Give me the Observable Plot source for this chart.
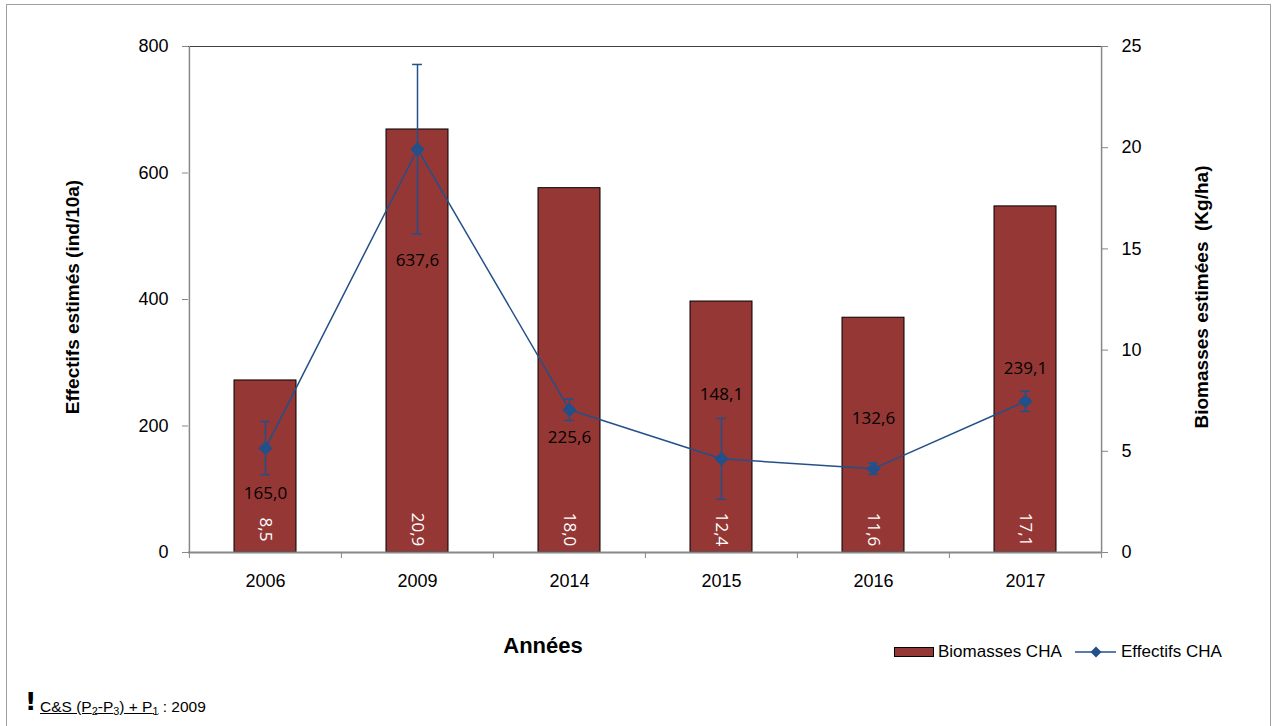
<!DOCTYPE html>
<html>
<head>
<meta charset="utf-8">
<script src="https://cdn.jsdelivr.net/npm/d3@7"></script>
<script src="https://cdn.jsdelivr.net/npm/@observablehq/plot@0.6"></script>
<style>
  body { margin: 0; background: #fff; }
  #wrap { position: relative; width: 1273px; height: 726px; overflow: hidden; font-family: "Liberation Sans", Arial, sans-serif; color: #000; }
  #frame { position: absolute; left: 6px; top: 4px; width: 1265px; height: 740px; border: 1px solid #a0a0a0; box-sizing: border-box; }
  #chart { position: absolute; left: 0; top: 0; }
  .abs { position: absolute; white-space: nowrap; }
  .ytitle { font-weight: bold; font-size: 19px; line-height: 22px; text-align: center; width: 400px; transform: rotate(-90deg); transform-origin: 50% 50%; }
  .legtext { font-size: 17px; line-height: 20px; }
  #foot { font-size: 15.5px; line-height: 18px; }
  #foot sub { font-size: 70%; vertical-align: -3px; line-height: 0; }
</style>
</head>
<body>
<div id="wrap">
  <div id="frame"></div>
  <div id="chart"></div>
  <div class="abs ytitle" style="left:-127px; top:286px;">Effectifs estimés (ind/10a)</div>
  <div class="abs ytitle" style="left:1002px; top:286px;">Biomasses estimées &nbsp;(Kg/ha)</div>
  <div class="abs" style="left:443px; width:200px; text-align:center; top:633px; font-weight:bold; font-size:22px; line-height:26px;">Années</div>
  <div class="abs" style="left:894px; top:647px; width:40px; height:10px; background:#953735; border:1px solid #000; box-sizing:border-box;"></div>
  <div class="abs legtext" style="left:938px; top:642px;">Biomasses CHA</div>
  <svg class="abs" style="left:1075px; top:646px;" width="42" height="12">
    <line x1="0" y1="6" x2="41" y2="6" stroke="#24508A" stroke-width="1.5"></line>
    <path d="M21,0.5 L26.5,6 L21,11.5 L15.5,6 Z" fill="#24508A"></path>
  </svg>
  <div class="abs legtext" style="left:1121px; top:642px;">Effectifs CHA</div>
  <div class="abs" style="left:25px; top:688px; font-weight:bold; font-size:25px; line-height:28px; font-family:'DejaVu Sans', sans-serif;">!</div>
  <div id="foot" class="abs" style="left:40px; top:698px;"><span style="text-decoration:underline;">C&amp;S (P<sub>2</sub>-P<sub>3</sub>) + P<sub>1</sub></span> : 2009</div>
</div>
<script>
// ---- data ----
const years = ["2006", "2009", "2014", "2015", "2016", "2017"];
const biomasses = [8.5, 20.9, 18.0, 12.4, 11.6, 17.1];          // Kg/ha (right axis)
const effectifs = [165.0, 637.6, 225.6, 148.1, 132.6, 239.1];   // ind/10a (left axis)
const effectifsErr = [42, 134, 17, 64, 9, 16];                  // error bar half-length
const leftTicks = [0, 200, 400, 600, 800];
const rightTicks = [0, 5, 10, 15, 20, 25];

// ---- layout / style ----
const W = 1273, H = 620, ML = 188, MR = 172, MT = 46, MB = 68;
const K = 800 / 25; // right axis -> left axis units
const bw = (W - ML - MR) / years.length;
const BAR = "#953735", LINE = "#24508A", AXIS = "#888888";
const fmt = v => v.toFixed(1).replace(".", ",");
const labelFont = '"Open Sans", "Noto Sans", sans-serif';
const labelDy = [45, 111, 28, -64, -50, -33];

const data = years.map((year, i) => ({
  year, bio: biomasses[i], eff: effectifs[i], err: effectifsErr[i]
}));

const pointLabels = data.map((d, i) =>
  Plot.text([d], {x: "year", y: "eff", text: d => fmt(d.eff), dy: labelDy[i],
    fontSize: 17, fontFamily: labelFont, fill: "#000", lineAnchor: "middle"}));

const plot = Plot.plot({
  width: W, height: H,
  marginLeft: ML, marginRight: MR, marginTop: MT, marginBottom: MB,
  style: {fontFamily: '"Liberation Sans", Arial, sans-serif', background: "transparent", overflow: "visible", color: "#000"},
  x: {type: "band", domain: years, padding: 0, axis: null},
  y: {domain: [0, 800], axis: null},
  marks: [
    Plot.barY(data, {x: "year", y: d => d.bio * K, fill: BAR, stroke: "#000", strokeWidth: 1,
      insetLeft: 45, insetRight: 45}),
    Plot.ruleY([800], {stroke: "#404040", strokeWidth: 1}),
    Plot.ruleX([years[0]], {dx: -bw / 2, stroke: AXIS, strokeWidth: 1.5}),
    Plot.ruleX([years[years.length - 1]], {dx: bw / 2, stroke: AXIS, strokeWidth: 1.5}),
    Plot.ruleY([0], {stroke: AXIS, strokeWidth: 2}),
    Plot.ruleX(years, {x: d => d, y1: 0, y2: -9.5, dx: -bw / 2, stroke: AXIS, strokeWidth: 1}),
    Plot.ruleX([years[years.length - 1]], {y1: 0, y2: -9.5, dx: bw / 2, stroke: AXIS, strokeWidth: 1}),
    Plot.axisY({anchor: "left", ticks: leftTicks, tickSize: 6, tickPadding: 14, fontSize: 18,
      label: null, stroke: AXIS}),
    Plot.axisY(rightTicks.map(v => v * K), {anchor: "right", tickSize: 6, tickPadding: 14, fontSize: 18,
      label: null, stroke: AXIS, tickFormat: v => String(v / K)}),
    Plot.axisX({ticks: years, tickSize: 0, tickPadding: 22, fontSize: 18, label: null}),
    Plot.text(data, {x: "year", y: 0, text: d => fmt(d.bio), rotate: 90, dy: -23,
      fill: "#fff", fontSize: 17, fontFamily: labelFont, lineAnchor: "middle"}),
    Plot.line(data, {x: "year", y: "eff", stroke: LINE, strokeWidth: 1.5}),
    Plot.ruleX(data, {x: "year", y1: d => d.eff - d.err, y2: d => d.eff + d.err, stroke: LINE, strokeWidth: 1.5}),
    Plot.tickY(data, {x: "year", y: d => d.eff - d.err, stroke: LINE, strokeWidth: 1.5,
      insetLeft: (bw - 10) / 2, insetRight: (bw - 10) / 2}),
    Plot.tickY(data, {x: "year", y: d => d.eff + d.err, stroke: LINE, strokeWidth: 1.5,
      insetLeft: (bw - 10) / 2, insetRight: (bw - 10) / 2}),
    Plot.dot(data, {x: "year", y: "eff", symbol: "diamond2", r: 5.5, fill: LINE, stroke: LINE}),
    ...pointLabels
  ]
});
document.getElementById("chart").appendChild(plot);
</script>
</body>
</html>
